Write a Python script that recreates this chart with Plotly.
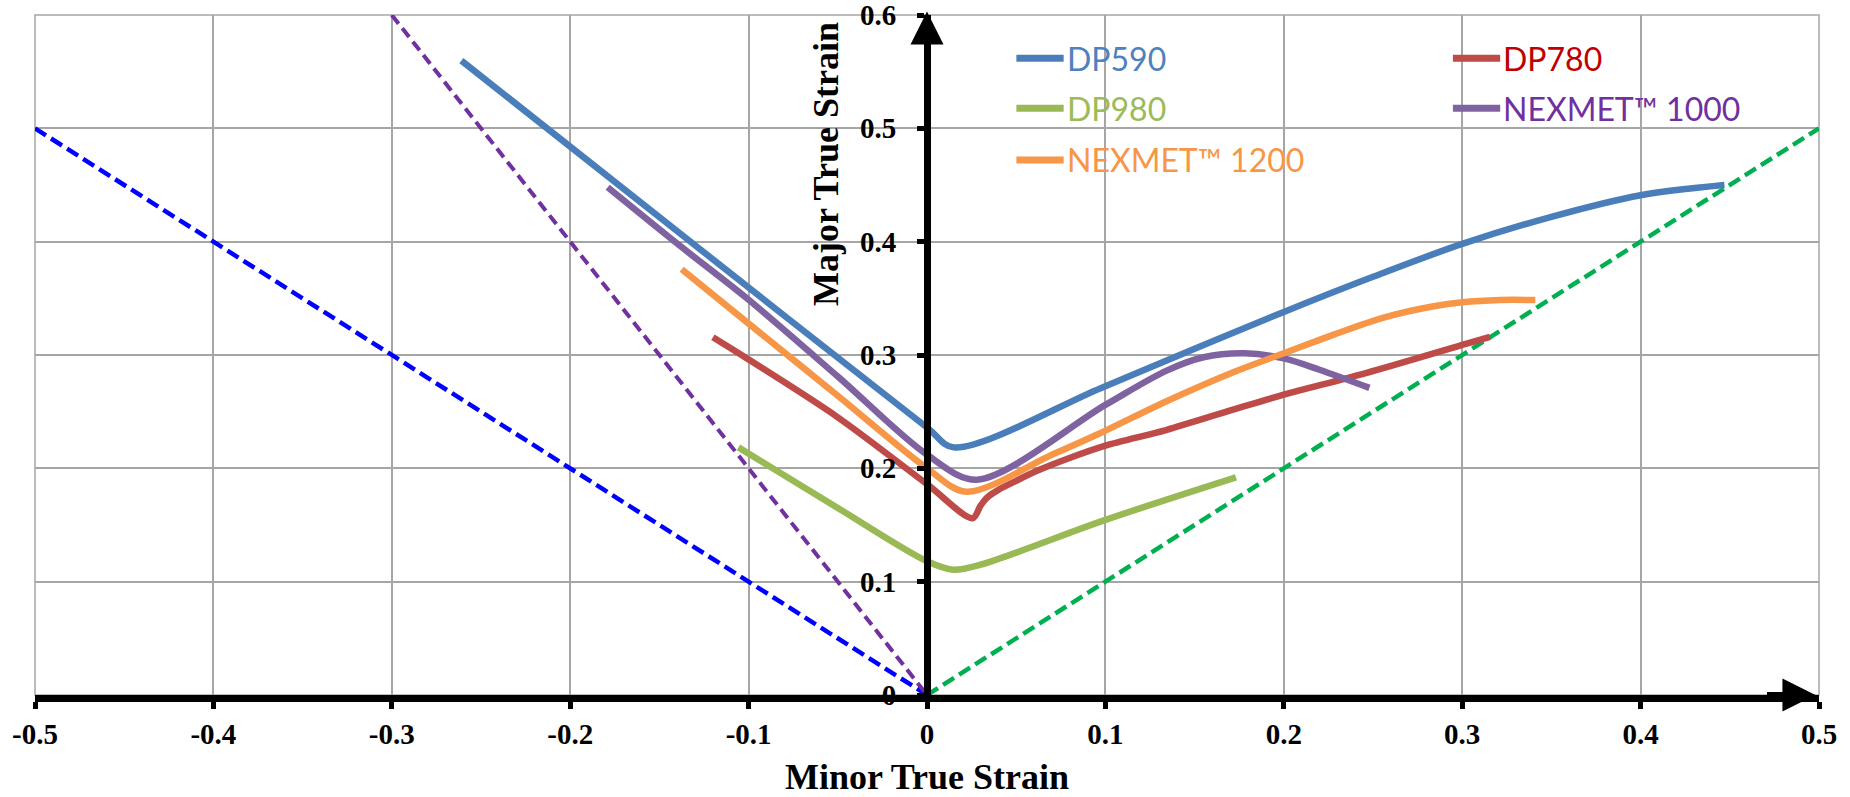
import plotly.graph_objects as go

# ---------------- data ----------------
minor_dp590 = [-0.261, -0.135, 0.0, 0.015, 0.097, 0.15, 0.2, 0.25, 0.3, 0.349, 0.4, 0.447]
major_dp590 = [0.5597, 0.403, 0.236, 0.2185, 0.2705, 0.3055, 0.338, 0.369, 0.398, 0.4215, 0.441, 0.450]

minor_dp780 = [-0.12, -0.1, -0.05, 0.0, 0.0256, 0.03, 0.0335, 0.04, 0.05, 0.062, 0.078, 0.1, 0.134, 0.172, 0.2, 0.246, 0.3025, 0.3156]
major_dp780 = [0.3156, 0.296, 0.245, 0.186, 0.156, 0.167, 0.174, 0.181, 0.189, 0.198, 0.208, 0.220, 0.2338, 0.252, 0.265, 0.284, 0.310, 0.316]

minor_dp980 = [-0.1057, -0.05, 0.0, 0.0148, 0.03, 0.1, 0.1732]
major_dp980 = [0.2185, 0.165, 0.118, 0.1106, 0.115, 0.1545, 0.192]

minor_nx1000 = [-0.179, -0.139, -0.101, -0.05, 0.0, 0.028, 0.1, 0.134, 0.155, 0.178, 0.2, 0.22, 0.248]
major_nx1000 = [0.448, 0.397, 0.350, 0.281, 0.212, 0.190, 0.256, 0.286, 0.298, 0.3015, 0.297, 0.287, 0.271]

minor_nx1200 = [-0.1375, -0.101, -0.05, 0.0, 0.022, 0.07, 0.097, 0.134, 0.172, 0.2, 0.228, 0.256, 0.284, 0.30, 0.321, 0.341]
major_nx1200 = [0.3756, 0.329, 0.264, 0.200, 0.1794, 0.212, 0.231, 0.259, 0.285, 0.3015, 0.318, 0.333, 0.343, 0.3465, 0.3485, 0.3485]

# reference strain paths
ref_uniaxial_x = [-0.5, 0.0]
ref_uniaxial_y = [0.5, 0.0]
ref_shear_x = [-0.3, 0.0]
ref_shear_y = [0.6, 0.0]
ref_biaxial_x = [0.0, 0.5]
ref_biaxial_y = [0.0, 0.5]

x_ticks = [-0.5, -0.4, -0.3, -0.2, -0.1, 0.0, 0.1, 0.2, 0.3, 0.4, 0.5]
x_tick_labels = ["-0.5", "-0.4", "-0.3", "-0.2", "-0.1", "0", "0.1", "0.2", "0.3", "0.4", "0.5"]
y_ticks = [0.0, 0.1, 0.2, 0.3, 0.4, 0.5, 0.6]
y_tick_labels = ["0", "0.1", "0.2", "0.3", "0.4", "0.5", "0.6"]

series_names = ["DP590", "DP780", "DP980", "NEXMET™ 1000", "NEXMET™ 1200"]
line_colors = ["#4A7EBB", "#BE4B48", "#98B954", "#7F63A1", "#F79646"]
label_colors = ["#4F81BD", "#C00000", "#9BBB59", "#7030A0", "#F79646"]

# ---------------- figure ----------------
fig = go.Figure()

fig.add_trace(go.Scatter(x=ref_uniaxial_x, y=ref_uniaxial_y, mode="lines",
                         line=dict(color="#0000FF", width=4.5, dash="13px,6px"), showlegend=False))
fig.add_trace(go.Scatter(x=ref_shear_x, y=ref_shear_y, mode="lines",
                         line=dict(color="#7030A0", width=4, dash="11px,6px"), showlegend=False))
fig.add_trace(go.Scatter(x=ref_biaxial_x, y=ref_biaxial_y, mode="lines",
                         line=dict(color="#00B050", width=4.5, dash="13px,6px"), showlegend=False))

curves = [(minor_dp590, major_dp590), (minor_dp780, major_dp780), (minor_dp980, major_dp980),
          (minor_nx1000, major_nx1000), (minor_nx1200, major_nx1200)]
for (xs, ys), name, col in zip(curves, series_names, line_colors):
    fig.add_trace(go.Scatter(x=xs, y=ys, mode="lines", name=name,
                             line=dict(color=col, width=6.5, shape="spline", smoothing=0.9),
                             showlegend=False))

serif = "Liberation Serif"
tick_font = dict(family=serif, size=29, color="black", weight="bold")
fig.update_layout(
    width=1850, height=797,
    margin=dict(l=35, r=31, t=15, b=102),
    paper_bgcolor="white", plot_bgcolor="white",
    xaxis=dict(range=[-0.5, 0.5], tickvals=x_ticks, ticktext=x_tick_labels, automargin=False,
               showgrid=True, gridcolor="#A6A6A6", gridwidth=1.5, zeroline=False,
               showline=True, linecolor="black", linewidth=7,
               ticks="outside", ticklen=7, tickwidth=5, tickcolor="black",
               ticklabelstandoff=0, ticklabeloverflow="allow", tickfont=tick_font),
    yaxis=dict(range=[0, 0.6], tickvals=y_ticks, ticktext=y_tick_labels, automargin=False,
               anchor="free", position=0.5,
               showgrid=True, gridcolor="#A6A6A6", gridwidth=1.5, zeroline=False,
               showline=True, linecolor="black", linewidth=7,
               ticks="outside", ticklen=7, tickwidth=5, tickcolor="black",
               ticklabelstandoff=15, ticklabeloverflow="allow", tickfont=tick_font),
    showlegend=False,
)

# plot frame
fig.add_shape(type="rect", xref="paper", yref="paper", x0=0, x1=1, y0=0, y1=1,
              line=dict(color="#A6A6A6", width=1.5), layer="below")

# axis arrows
fig.add_annotation(x=0.498, y=0, ax=0.47, ay=0, xref="x", yref="y", axref="x", ayref="y",
                   text="", showarrow=True, arrowhead=2, arrowsize=1.1, arrowwidth=6,
                   arrowcolor="black", standoff=0, startstandoff=0)
fig.add_annotation(x=0, y=0.603, ax=0, ay=0.57, xref="x", yref="y", axref="x", ayref="y",
                   text="", showarrow=True, arrowhead=2, arrowsize=1.1, arrowwidth=6,
                   arrowcolor="black", standoff=0, startstandoff=0)

# axis titles
fig.add_annotation(x=-0.0566, y=0.4685, xref="x", yref="y", text="Major True Strain",
                   textangle=-90, showarrow=False,
                   font=dict(family=serif, size=36, color="black", weight="bold"))
fig.add_annotation(x=0.0, y=-0.1206, xref="x", yref="paper", text="Minor True Strain",
                   showarrow=False, yanchor="middle",
                   font=dict(family=serif, size=36, color="black", weight="bold"))

# legend (manual, two columns)
leg_pos = [(0.0501, 0.5618), (0.2948, 0.5618), (0.0501, 0.5177), (0.2948, 0.5177), (0.0501, 0.4721)]
for (lx, ly), name, lc, tc in zip(leg_pos, series_names, line_colors, label_colors):
    fig.add_shape(type="line", xref="x", yref="y", x0=lx, x1=lx + 0.0265, y0=ly, y1=ly,
                  line=dict(color=lc, width=7))
    fig.add_annotation(x=lx + 0.0272, y=ly, xref="x", yref="y", text=name, showarrow=False,
                       xanchor="left", yanchor="middle",
                       font=dict(family="Lato", size=32, color=tc))

fig.write_html("out.html", config={"displayModeBar": False},
               post_script="document.body.style.margin='0';")
